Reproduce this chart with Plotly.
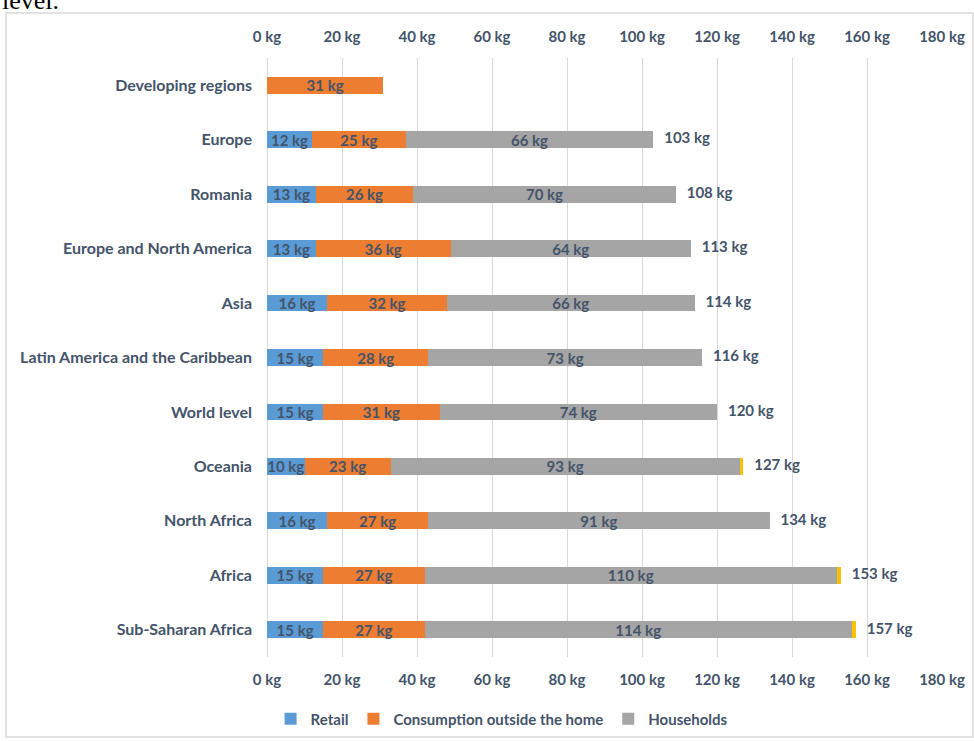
import plotly.graph_objects as go

categories = ["Developing regions", "Europe", "Romania", "Europe and North America", "Asia",
              "Latin America and the Caribbean", "World level", "Oceania", "North Africa",
              "Africa", "Sub-Saharan Africa"]
retail = [None, 12, 13, 13, 16, 15, 15, 10, 16, 15, 15]
outside_home = [31, 25, 26, 36, 32, 28, 31, 23, 27, 27, 27]
households = [None, 66, 70, 64, 66, 73, 74, 93, 91, 110, 114]
other = [None, None, None, None, None, None, None, 1, None, 1, 1]
totals = [None, 103, 108, 113, 114, 116, 120, 127, 134, 153, 157]
x_ticks = [0, 20, 40, 60, 80, 100, 120, 140, 160, 180]

TXT = "#44546A"
FONT = "Lato"

def lab(vals):
    return [f"{v} kg" if v is not None else "" for v in vals]

fig = go.Figure()
series = [("Retail", retail, "#5B9BD5", True),
          ("Consumption outside the home", outside_home, "#ED7D31", True),
          ("Households", households, "#A5A5A5", True),
          ("Other", other, "#FFC000", False)]
for name, vals, col, show in series:
    fig.add_trace(go.Bar(
        y=categories, x=vals, name=name, orientation="h",
        marker=dict(color=col, line=dict(width=0)),
        text=lab(vals) if show else None,
        textposition="inside" if show else "none",
        insidetextanchor="middle",
        textfont=dict(family=FONT, size=15, color=TXT, weight="bold"),
        showlegend=show, hoverinfo="skip",
    ))

ends = []
for r, o, h, ot in zip(retail, outside_home, households, other):
    ends.append(sum(v for v in (r, o, h, ot) if v is not None))
fig.add_trace(go.Scatter(
    y=categories, x=ends, mode="text",
    text=["\u00a0\u00a0\u00a0" + f"{t} kg" if t is not None else "" for t in totals],
    textposition="middle right",
    textfont=dict(family=FONT, size=15, color=TXT, weight="bold"),
    showlegend=False, hoverinfo="skip", cliponaxis=False,
))

axis_common = dict(range=[0, 180], tickmode="array", tickvals=x_ticks,
                   ticktext=[f"{t} kg" for t in x_ticks],
                   showgrid=True, gridcolor="#D9D9D9", gridwidth=1,
                   zeroline=True, zerolinecolor="#D9D9D9", zerolinewidth=1,
                   showline=False, ticks="", automargin=False,
                   tickfont=dict(family=FONT, size=15, color=TXT, weight="bold"),
                   ticklabelstandoff=12, fixedrange=True)

fig.update_layout(
    width=974, height=741,
    margin=dict(l=267, r=32, t=58, b=84),
    paper_bgcolor="white", plot_bgcolor="white",
    barmode="stack", bargap=0.69,
    xaxis=dict(side="bottom", **axis_common),
    xaxis2=dict(side="top", overlaying="x", matches="x", **axis_common),
    yaxis=dict(range=[10.5, -0.5], autorange=False, showgrid=False, zeroline=False,
               ticks="", automargin=False, fixedrange=True,
               tickfont=dict(family=FONT, size=16, color=TXT, weight="bold"),
               ticklabelstandoff=14),
    legend=dict(orientation="h", x=0.515, xanchor="center", xref="container",
                y=(741 - 719) / 741, yanchor="middle", yref="container",
                font=dict(family=FONT, size=15, color=TXT, weight="bold"),
                itemwidth=30, traceorder="normal"),
    uniformtext=dict(minsize=15, mode="show"),
    font=dict(family=FONT),
    shapes=[dict(type="rect", xref="paper", yref="paper",
                 x0=(6 - 267) / 675, x1=(973 - 267) / 675,
                 y0=(657 - 737) / 599, y1=(657 - 13) / 599,
                 line=dict(color="#D9D9D9", width=1.5), layer="below")],
    annotations=[dict(text="level.", xref="paper", yref="paper",
                      x=(0 - 267) / 675, y=(657 - 17) / 599,
                      xanchor="left", yanchor="bottom", showarrow=False,
                      font=dict(family="Liberation Serif", size=26, color="black"))],
)
fig.add_trace(go.Scatter(x=[0], y=[categories[0]], xaxis="x2", mode="markers",
                         marker=dict(opacity=0), showlegend=False, hoverinfo="skip"))

fig.write_html("out.html")
